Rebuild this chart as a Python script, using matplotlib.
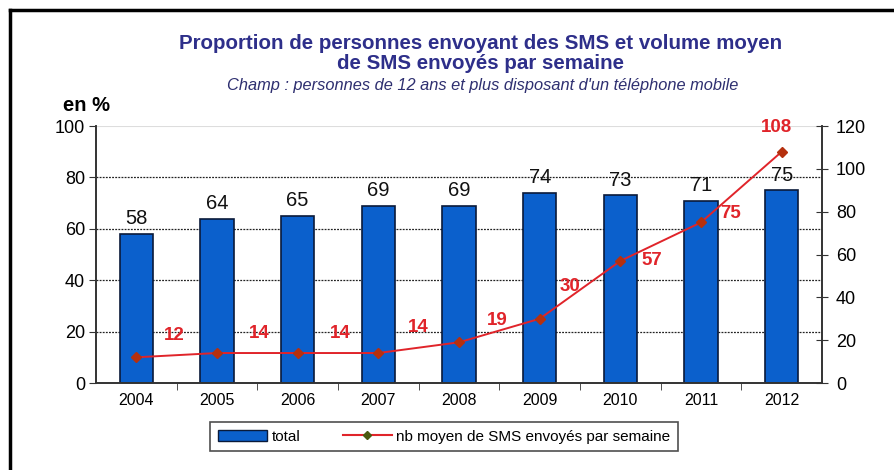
import matplotlib.pyplot as plt
from matplotlib.lines import Line2D
from matplotlib.patches import Patch

plt.rcParams['font.family'] = ['Liberation Sans', 'DejaVu Sans']

annees = ['2004', '2005', '2006', '2007', '2008', '2009', '2010', '2011', '2012']
total = [58, 64, 65, 69, 69, 74, 73, 71, 75]
nb_sms = [12, 14, 14, 14, 19, 30, 57, 75, 108]
# décalage des étiquettes rouges (en pixels)
decal_sms = [(38, 22), (42, 20), (43, 20), (40, 26), (38, 22), (30, 32), (31, 0), (30, 9), (-5, 24)]

bleu = '#0b60cc'
rouge = '#e0242a'
titre_couleur = '#2e2f8a'

fig = plt.figure(figsize=(8.94, 4.70), dpi=100)
ax = fig.add_axes([0.1074, 0.1851, 0.8121, 0.5468])
ax2 = ax.twinx()

x = list(range(len(annees)))
barres = ax.bar(x, total, width=0.41, color=bleu, edgecolor='#0a1a3a', linewidth=1.2, zorder=2)
for xi, v in zip(x, total):
    ax.annotate(str(v), (xi, v), xytext=(0, 4), textcoords='offset points',
                ha='center', va='bottom', fontsize=14.5, color='#111111')

ax.set_ylim(0, 100)
ax.set_yticks(range(0, 101, 20))
ax.set_xlim(-0.5, len(annees) - 0.5)
ax.set_xticks(x)
ax.set_xticklabels(annees, fontsize=11.5)
ax.set_xticks([i + 0.5 for i in x[:-1]], minor=True)
ax.tick_params(axis='x', which='major', length=0, pad=7)
ax.tick_params(axis='x', which='minor', length=5, direction='out', color='#333333')
ax.tick_params(axis='y', labelsize=13, length=5, direction='out', color='#333333', pad=3)
for y in [20, 40, 60, 80]:
    ax.axhline(y, color='#222222', linestyle=(0, (1.5, 1)), linewidth=0.9, zorder=1)
ax.axhline(100, color='#dddddd', linewidth=0.8, zorder=1)

ax2.plot(x, nb_sms, color=rouge, linewidth=1.4, marker='D', markersize=5,
         markerfacecolor='#b5300e', markeredgecolor='#b5300e', zorder=3)
for xi, v, (dx, dy) in zip(x, nb_sms, decal_sms):
    ax2.annotate(str(v), (xi, v), xytext=(dx * 0.72, dy * 0.72), textcoords='offset points',
                 ha='center', va='center', fontsize=13.5, fontweight='bold', color=rouge)
ax2.set_ylim(0, 120)
ax2.set_yticks(range(0, 121, 20))
ax2.tick_params(axis='y', labelsize=13, length=8, direction='inout', color='#333333', pad=6)

for a in (ax, ax2):
    a.spines['top'].set_visible(False)
    for s in ('left', 'right', 'bottom'):
        a.spines[s].set_color('#333333')
        a.spines[s].set_linewidth(1.2)

fig.text(0.537, 0.908, 'Proportion de personnes envoyant des SMS et volume moyen',
         ha='center', va='center', fontsize=14.8, fontweight='bold', color=titre_couleur)
fig.text(0.537, 0.864, 'de SMS envoyés par semaine',
         ha='center', va='center', fontsize=14.8, fontweight='bold', color=titre_couleur)
fig.text(0.540, 0.818, "Champ : personnes de 12 ans et plus disposant d'un téléphone mobile",
         ha='center', va='center', fontsize=11.8, style='italic', color='#2e2f70')
fig.text(0.070, 0.776, 'en %', ha='left', va='center', fontsize=14.5, fontweight='bold')

poignees = [Patch(facecolor=bleu, edgecolor='#0a1a3a', label='total'),
            Line2D([0], [0], color=rouge, marker='D', markersize=4,
                   markerfacecolor='#4a5a10', markeredgecolor='#4a5a10',
                   label='nb moyen de SMS envoyés par semaine')]
leg = fig.legend(handles=poignees, loc='center', bbox_to_anchor=(0.497, 0.071), ncol=2,
                 frameon=True, fancybox=False, edgecolor='#222222', fontsize=11,
                 handlelength=3.2, columnspacing=2.8, handletextpad=0.3,
                 borderpad=0.5, borderaxespad=0.5)
leg.get_frame().set_linewidth(1.2)

# cadre du graphique (haut et gauche)
fig.add_artist(Line2D([0.0112, 1.0], [0.979, 0.979], color='black', linewidth=2.5))
fig.add_artist(Line2D([0.0112, 0.0112], [0.0, 0.979], color='black', linewidth=2.5))

fig.savefig('out.png', dpi=100)
